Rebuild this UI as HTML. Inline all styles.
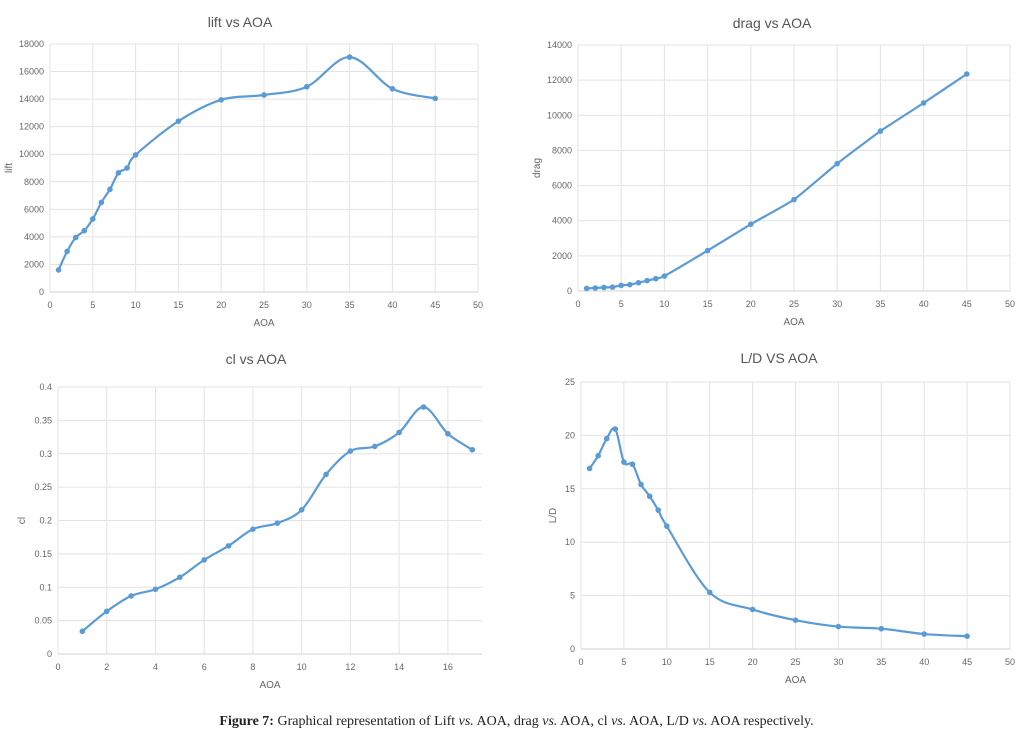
<!DOCTYPE html>
<html><head><meta charset="utf-8">
<style>
body{margin:0;background:#fff;width:1033px;height:740px;overflow:hidden;font-family:"Liberation Sans",sans-serif}
svg{position:absolute;left:0;top:0}
.cap{position:absolute;left:0;width:1033px;top:714px;text-align:center;font-family:"Liberation Serif",serif;font-size:14px;color:#222}
</style></head><body>
<svg id="s" width="1033" height="740"></svg>
<div class="cap"><b>Figure 7:</b> Graphical representation of Lift <i>vs.</i> AOA, drag <i>vs.</i> AOA, cl <i>vs.</i> AOA, L/D <i>vs.</i> AOA respectively.</div>
<script>
const liftX=[1,2,3,4,5,6,7,8,9,10,15,20,25,30,35,40,45];
const liftY=[1600,2950,3950,4450,5300,6500,7450,8650,9000,9950,12400,13950,14300,14900,17050,14750,14050];
const dragX=[1,2,3,4,5,6,7,8,9,10,15,20,25,30,35,40,45];
const dragY=[150,170,200,220,320,360,470,590,700,850,2300,3800,5200,7250,9100,10700,12350];
const clX=[1,2,3,4,5,6,7,8,9,10,11,12,13,14,15,16,17];
const clY=[0.034,0.064,0.087,0.097,0.115,0.141,0.162,0.187,0.196,0.216,0.269,0.304,0.311,0.332,0.370,0.330,0.306];
const ldX=[1,2,3,4,5,6,7,8,9,10,15,20,25,30,35,40,45];
const ldY=[16.9,18.1,19.7,20.6,17.5,17.3,15.4,14.3,13.0,11.5,5.3,3.7,2.7,2.1,1.9,1.4,1.2];
const liftTicksY=[0,2000,4000,6000,8000,10000,12000,14000,16000,18000];
const dragTicksY=[0,2000,4000,6000,8000,10000,12000,14000];
const clTicksY=[0,0.05,0.1,0.15,0.2,0.25,0.3,0.35,0.4];
const ldTicksY=[0,5,10,15,20,25];
const aoaTicks50=[0,5,10,15,20,25,30,35,40,45,50];
const aoaTicks17=[0,2,4,6,8,10,12,14,16];

const NS="http://www.w3.org/2000/svg";
const svg=document.getElementById('s');
function mk(tag,attrs,parent){const e=document.createElementNS(NS,tag);for(const k in attrs)e.setAttribute(k,attrs[k]);(parent||svg).appendChild(e);return e;}
function txt(str,attrs,parent){const t=mk('text',attrs,parent);t.textContent=str;return t;}

function chart(o){
  const g=mk('g',{});
  
  
  const sx=v=>o.x0+(v-o.xmin)/(o.xmax-o.xmin)*(o.x1-o.x0);
  const sy=v=>o.y0-(v-o.ymin)/(o.ymax-o.ymin)*(o.y0-o.y1);
  o.yt.forEach(v=>{
    const l=mk('line',{x1:o.x0,x2:o.x1,y1:sy(v),y2:sy(v),stroke:'#e3e3e3','stroke-width':1},g);
    
    
    const t=txt(String(v),{x:o.x0-6,y:sy(v)+3,'text-anchor':'end','font-size':9,fill:'#666'},g);
    
    
  });
  o.xt.forEach(v=>{
    const l=mk('line',{x1:sx(v),x2:sx(v),y1:o.y1,y2:o.y0,stroke:'#e3e3e3','stroke-width':1},g);
    
    
    const t=txt(String(v),{x:sx(v),y:o.y0+16,'text-anchor':'middle','font-size':9,fill:'#666'},g);
    
    
  });
  if(o.rightEdge){const l=mk('line',{x1:o.x1,x2:o.x1,y1:o.y1,y2:o.y0,stroke:'#e3e3e3'},g);}
  const ax=mk('line',{x1:o.x0,x2:o.x1,y1:o.y0,y2:o.y0,stroke:'#d0d0d0'},g);
  
  
  const ti=txt(o.title,{x:o.tx,y:o.ty,'text-anchor':'middle','font-size':14,fill:'#555'},g);
  
  
  const xl=txt('AOA',{x:(o.x0+o.x1)/2,y:o.y0+34,'text-anchor':'middle','font-size':10,fill:'#666'},g);
  
  
  const yl=txt(o.ylab,{x:0,y:0,'text-anchor':'middle','font-size':10,fill:'#666',transform:`translate(${o.ylx},${(o.y0+o.y1)/2}) rotate(-90)`},g);
  
  
  const P=o.xs.map((x,i)=>[sx(x),sy(o.ys[i])]);
  let d='M'+P[0][0]+','+P[0][1];
  for(let i=0;i<P.length-1;i++){
    const p0=P[Math.max(0,i-1)],p1=P[i],p2=P[i+1],p3=P[Math.min(P.length-1,i+2)];
    const t=o.smooth/6;
    const c1=[p1[0]+(p2[0]-p0[0])*t,p1[1]+(p2[1]-p0[1])*t];
    const c2=[p2[0]-(p3[0]-p1[0])*t,p2[1]-(p3[1]-p1[1])*t];
    d+=` C${c1[0]},${c1[1]} ${c2[0]},${c2[1]} ${p2[0]},${p2[1]}`;
  }
  const line=mk('path',{d,fill:'none',stroke:'#5b9bd5','stroke-width':2.2},g);
  
  
  P.forEach(p=>{
    const c=mk('circle',{cx:p[0],cy:p[1],r:2.8,fill:'#5b9bd5'},g);
    
    
  });
}
chart({name:'lift-chart',title:'lift vs AOA',ylab:'lift',tx:240,ty:27,ylx:12,x0:50,x1:478,y0:292,y1:44,xmin:0,xmax:50,ymin:0,ymax:18000,xt:aoaTicks50,yt:liftTicksY,xs:liftX,ys:liftY,smooth:1,rightEdge:true});
chart({name:'drag-chart',title:'drag vs AOA',ylab:'drag',tx:772,ty:28,ylx:540,x0:578,x1:1010,y0:291,y1:45,xmin:0,xmax:50,ymin:0,ymax:14000,xt:aoaTicks50,yt:dragTicksY,xs:dragX,ys:dragY,smooth:0.4,rightEdge:true});
chart({name:'cl-chart',title:'cl vs AOA',ylab:'cl',tx:256,ty:364,ylx:25,x0:58,x1:482,y0:654,y1:387,xmin:0,xmax:17.4,ymin:0,ymax:0.4,xt:aoaTicks17,yt:clTicksY,xs:clX,ys:clY,smooth:1,rightEdge:false});
chart({name:'ld-chart',title:'L/D VS AOA',ylab:'L/D',tx:779,ty:363,ylx:556,x0:581,x1:1010,y0:649,y1:382,xmin:0,xmax:50,ymin:0,ymax:25,xt:aoaTicks50,yt:ldTicksY,xs:ldX,ys:ldY,smooth:1,rightEdge:true});
</script>
</body></html>
